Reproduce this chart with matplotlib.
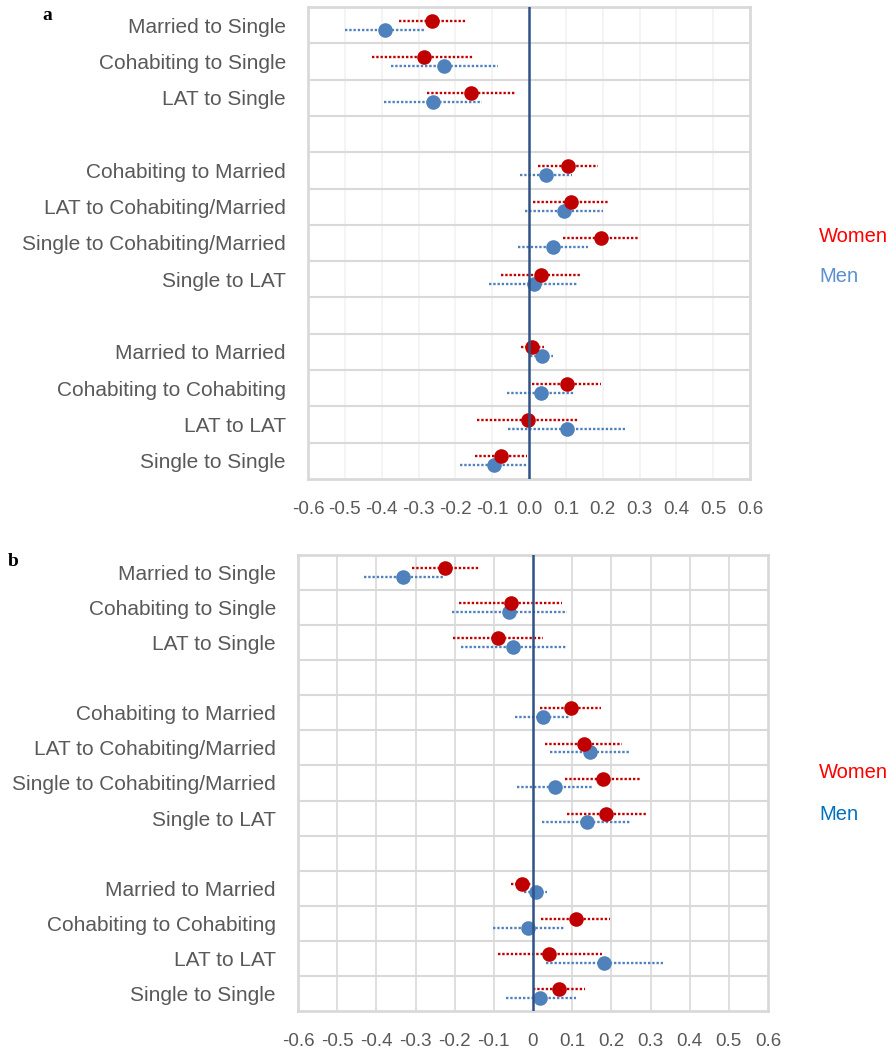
import numpy as np
import matplotlib
matplotlib.use("Agg")
from matplotlib import pyplot as plt

plt.rcParams['font.family'] = ['Liberation Sans', 'DejaVu Sans']
plt.rcParams['axes.unicode_minus'] = False

# row labels, top to bottom ("" = empty spacer row)
labels = ["Married to Single", "Cohabiting to Single", "LAT to Single", "",
          "Cohabiting to Married", "LAT to Cohabiting/Married",
          "Single to Cohabiting/Married", "Single to LAT", "",
          "Married to Married", "Cohabiting to Cohabiting", "LAT to LAT",
          "Single to Single"]
rows = [0, 1, 2, 4, 5, 6, 7, 9, 10, 11, 12]

# panel a: estimate, lower CI, upper CI
a_women = [-0.263, -0.285, -0.158, 0.106, 0.114, 0.196, 0.032, 0.009, 0.102, -0.004, -0.076]
a_women_lo = [-0.352, -0.425, -0.278, 0.025, 0.010, 0.093, -0.076, -0.022, 0.009, -0.142, -0.146]
a_women_hi = [-0.172, -0.149, -0.036, 0.188, 0.218, 0.299, 0.140, 0.041, 0.196, 0.137, -0.005]
a_men = [-0.392, -0.231, -0.261, 0.045, 0.096, 0.065, 0.013, 0.035, 0.033, 0.102, -0.095]
a_men_lo = [-0.500, -0.376, -0.393, -0.024, -0.010, -0.029, -0.109, 0.003, -0.060, -0.056, -0.188]
a_men_hi = [-0.285, -0.083, -0.127, 0.116, 0.202, 0.159, 0.133, 0.066, 0.123, 0.261, -0.002]

# panel b
b_women = [-0.225, -0.056, -0.089, 0.096, 0.129, 0.179, 0.187, -0.028, 0.109, 0.042, 0.066]
b_women_lo = [-0.309, -0.188, -0.203, 0.019, 0.031, 0.082, 0.086, -0.057, 0.020, -0.090, 0.001]
b_women_hi = [-0.137, 0.073, 0.026, 0.173, 0.228, 0.274, 0.291, -0.005, 0.197, 0.175, 0.133]
b_men = [-0.331, -0.062, -0.051, 0.025, 0.145, 0.056, 0.138, 0.007, -0.012, 0.182, 0.019]
b_men_lo = [-0.432, -0.207, -0.184, -0.047, 0.043, -0.040, 0.024, -0.023, -0.101, 0.033, -0.070]
b_men_hi = [-0.229, 0.086, 0.083, 0.092, 0.247, 0.151, 0.251, 0.037, 0.079, 0.332, 0.109]

ticks = np.round(np.arange(-0.6, 0.61, 0.1), 1)

W, H = 896, 1049
fig = plt.figure(figsize=(W / 100, H / 100), dpi=100)

red = "#C00000"
grey_txt = "#595959"


def panel(rect, women, wlo, whi, men, mlo, mhi, men_col, vgrid_col, zero_label,
          letter, letter_xy, leg_xy, men_text_col):
    l, t, r, b = rect
    ax = fig.add_axes([l / W, 1 - b / H, (r - l) / W, (b - t) / H])
    y = np.array(rows, dtype=float)
    yw = y - 0.125
    ym = y + 0.12
    ax.hlines(ym, mlo, mhi, colors=men_col, linestyles=(0, (1, 0.8)), lw=1.7, zorder=3)
    ax.plot(men, ym, "o", ms=10.5, color=men_col, mew=0, zorder=4)
    ax.hlines(yw, wlo, whi, colors=red, linestyles=(0, (1, 0.8)), lw=1.7, zorder=5)
    ax.plot(women, yw, "o", ms=10.5, color=red, mew=0, zorder=6)

    ax.set_xlim(-0.6, 0.6)
    ax.set_ylim(12.5, -0.5)
    for k in range(12):
        ax.axhline(k + 0.5, color="#D9D9D9", lw=1.5, zorder=1)
    for tk in ticks[1:-1]:
        if abs(tk) > 1e-9:
            ax.axvline(tk, color=vgrid_col, lw=1.2, zorder=0)
    ax.axvline(0, color="#2F5286", lw=1.8, zorder=7)

    ax.set_xticks(ticks)
    ax.set_xticklabels([zero_label if abs(v) < 1e-9 else f"{v:.1f}" for v in ticks])
    ax.set_yticks(range(13))
    ax.set_yticklabels(labels)
    ax.tick_params(axis="both", length=0, colors=grey_txt)
    ax.tick_params(axis="y", labelsize=15, pad=16)
    ax.tick_params(axis="x", labelsize=13.5, pad=16)
    for s in ax.spines.values():
        s.set_color("#D9D9D9")
        s.set_linewidth(2)

    fig.text(letter_xy[0] / W, 1 - letter_xy[1] / H, letter, family="Liberation Serif",
             fontweight="bold", fontsize=14, va="center", ha="left")
    fig.text(leg_xy[0] / W, 1 - leg_xy[1] / H, "Women", color="#FF0000",
             fontsize=14.5, va="center")
    fig.text(leg_xy[0] / W, 1 - leg_xy[2] / H, "Men", color=men_text_col,
             fontsize=14.5, va="center")
    return ax


panel((308, 7, 750, 479), a_women, a_women_lo, a_women_hi, a_men, a_men_lo, a_men_hi,
      "#4F81BD", "#F2F2F2", "0.0", "a", (42, 16), (819, 237, 277), "#5B8FD0")
panel((298, 555, 768, 1011), b_women, b_women_lo, b_women_hi, b_men, b_men_lo, b_men_hi,
      "#4F81BD", "#D9D9D9", "0", "b", (8, 562), (819, 772, 814), "#0070C0")

fig.savefig("out.png", dpi=100)
